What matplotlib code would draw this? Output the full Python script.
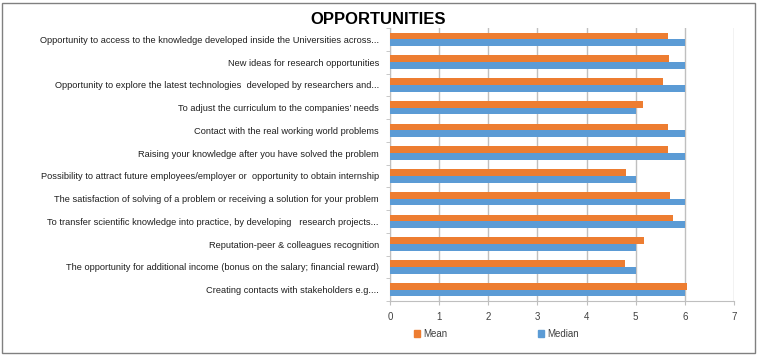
import numpy as np
import matplotlib.pyplot as plt
from matplotlib.patches import Rectangle, Patch

categories = [
    "Opportunity to access to the knowledge developed inside the Universities across...",
    "New ideas for research opportunities",
    "Opportunity to explore the latest technologies  developed by researchers and...",
    "To adjust the curriculum to the companies\u2019 needs",
    "Contact with the real working world problems",
    "Raising your knowledge after you have solved the problem",
    "Possibility to attract future employees/employer or  opportunity to obtain internship",
    "The satisfaction of solving of a problem or receiving a solution for your problem",
    "To transfer scientific knowledge into practice, by developing   research projects...",
    "Reputation-peer & colleagues recognition",
    "The opportunity for additional income (bonus on the salary; financial reward)",
    "Creating contacts with stakeholders e.g....",
]
mean = [5.66, 5.67, 5.56, 5.15, 5.66, 5.66, 4.80, 5.70, 5.76, 5.16, 4.78, 6.05]
median = [6, 6, 6, 5, 6, 6, 5, 6, 6, 5, 5, 6]

ORANGE = '#ED7D31'
BLUE = '#5B9BD5'
GRID = '#BFBFBF'

plt.rcParams['font.family'] = ['Liberation Sans', 'DejaVu Sans']

fig = plt.figure(figsize=(7.59, 3.56), dpi=100)
ax = fig.add_axes([390 / 759, 1 - 301 / 356, 344 / 759, 273 / 356])

y = np.arange(len(categories))
h = 0.3
ax.barh(y - h / 2, mean, height=h, color=ORANGE, label='Mean', zorder=3)
ax.barh(y + h / 2, median, height=h, color=BLUE, label='Median', zorder=3)

ax.set_xlim(0, 7)
ax.set_ylim(len(categories) - 0.5, -0.5)
ax.set_xticks(range(8))
ax.tick_params(axis='x', length=3, color=GRID, labelsize=7, labelcolor='#404040', pad=5)
ax.set_yticks(y)
ax.set_yticklabels(categories, fontsize=6.7, color='#202020')
ax.set_yticks(np.arange(-0.5, len(categories), 1), minor=True)
ax.tick_params(axis='y', which='major', length=0, pad=8)
ax.tick_params(axis='y', which='minor', length=3, color=GRID)
ax.xaxis.grid(True, color=GRID, linewidth=1, zorder=0)
for side in ['top', 'right']:
    ax.spines[side].set_visible(False)
ax.spines['left'].set_color(GRID)
ax.spines['bottom'].set_color(GRID)

fig.text(378 / 759, 1 - 20 / 356, 'OPPORTUNITIES', fontsize=12, fontweight='bold',
         ha='center', va='center', color='black')

handles = [Patch(color=ORANGE), Patch(color=BLUE)]
fig.legend(handles, ['Mean', 'Median'], loc='center left', ncol=2,
           bbox_to_anchor=(405 / 759, 1 - 334 / 356), frameon=False, fontsize=7,
           handlelength=0.6, handleheight=0.6, handletextpad=0.4, columnspacing=9.3,
           labelcolor='#404040')

fig.patches.append(Rectangle((2 / 759, 3 / 356), 753 / 759, 350 / 356, transform=fig.transFigure,
                             fill=False, edgecolor='#808080', linewidth=1))

fig.savefig('out.png', dpi=100)
